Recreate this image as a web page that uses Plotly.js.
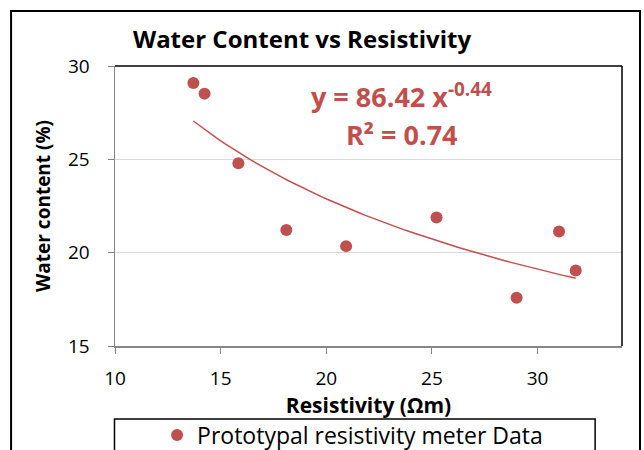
<!DOCTYPE html>
<html>
<head>
<meta charset="utf-8">
<script src="https://cdn.plot.ly/plotly-3.0.1.min.js"></script>
<style>html,body{margin:0;padding:0;background:#fff;}#chart{width:644px;height:450px;}</style>
</head>
<body>
<div id="chart"></div>
<script>
// Data
const resistivity = [13.71, 14.24, 15.84, 18.11, 20.94, 25.22, 29.01, 31.02, 31.81];
const waterContent = [29.09, 28.52, 24.79, 21.21, 20.35, 21.88, 17.59, 21.14, 19.05];
const seriesName = 'Prototypal resistivity meter Data';
const xTicks = [10, 15, 20, 25, 30];
const yTicks = [15, 20, 25, 30];
const fitLabel = 'y = 86.42 x<sup>-0.44</sup>';
const r2Label = 'R² = 0.74';

// Power trendline (least squares in log-log space, as Excel does)
const lx = resistivity.map(Math.log), ly = waterContent.map(Math.log);
const n = lx.length;
const mx = lx.reduce((a,b)=>a+b,0)/n, my = ly.reduce((a,b)=>a+b,0)/n;
let sxy = 0, sxx = 0;
for (let i=0;i<n;i++){ sxy += (lx[i]-mx)*(ly[i]-my); sxx += (lx[i]-mx)**2; }
const b = sxy/sxx, a = Math.exp(my - b*mx);
const xmin = Math.min(...resistivity), xmax = Math.max(...resistivity);
const tx = [], ty = [];
for (let i=0;i<=60;i++){ const x = xmin + (xmax-xmin)*i/60; tx.push(x); ty.push(a*Math.pow(x,b)); }

const red = '#C0504D';
const font = 'Open Sans, sans-serif';

const data = [
  {x: resistivity, y: waterContent, type:'scatter', mode:'markers', name: seriesName,
   marker:{color:red, size:12}},
  {x: tx, y: ty, type:'scatter', mode:'lines', showlegend:false, hoverinfo:'skip',
   line:{color:red, width:1.5}}
];

const layout = {
  width:644, height:450,
  margin:{l:115, r:22, t:66, b:104, autoexpand:false},
  paper_bgcolor:'#fff', plot_bgcolor:'#fff',
  font:{family:font, color:'#000'},
  title:{text:'<b>Water Content vs Resistivity</b>', font:{size:24, family:font, color:'#000'},
         x:0.469, xref:'container', xanchor:'center', y:0.911, yref:'container', yanchor:'middle'},
  xaxis:{range:[10,34], tickvals:xTicks, ticktext:xTicks.map(String), showgrid:false, zeroline:false,
         showline:true, linecolor:'#868686', linewidth:1.5, ticks:'outside', ticklen:6, tickcolor:'#868686',
         ticklabelstandoff:9, tickfont:{size:19, family:font},
         title:{text:'<b>Resistivity (Ωm)</b>', font:{size:21, family:font}, standoff:0}},
  yaxis:{range:[15,30], tickvals:yTicks, ticktext:yTicks.map(String), showgrid:true, gridcolor:'#D9D9D9', gridwidth:1.5,
         zeroline:false, showline:true, linecolor:'#868686', linewidth:1.5, ticks:'outside', ticklen:6, tickcolor:'#868686',
         ticklabelstandoff:14, tickfont:{size:19, family:font},
         title:{text:'<b>Water content (%)</b>', font:{size:19, family:font}, standoff:12}},
  showlegend:true,
  legend:{x:0.083, xanchor:'left', y:-0.318, yanchor:'middle', bgcolor:'rgba(0,0,0,0)',
          font:{size:23, family:font}, borderwidth:0},
  shapes:[
    // plot-area frame top and right
    {type:'line', xref:'paper', yref:'paper', x0:0, x1:1, y0:1, y1:1, line:{color:'#000', width:1.5}},
    {type:'line', xref:'paper', yref:'paper', x0:1, x1:1, y0:0, y1:1, line:{color:'#000', width:1.5}},
    // outer chart border
    {type:'rect', xref:'paper', yref:'paper', x0:-0.205, x1:1.0355, y0:-0.5, y1:1.196, line:{color:'#000', width:2}},
    // legend box
    {type:'rect', xref:'paper', yref:'paper', x0:-0.001, x1:0.947, y0:-0.5, y1:-0.261, line:{color:'#000', width:1.5}}
  ],
  annotations:[
    {text:'<b>'+fitLabel+'</b>', xref:'paper', yref:'paper', x:0.566, y:0.896, xanchor:'center', yanchor:'middle',
     showarrow:false, font:{size:27, family:font, color:red}},
    {text:'<b>'+r2Label+'</b>', xref:'paper', yref:'paper', x:0.566, y:0.756, xanchor:'center', yanchor:'middle',
     showarrow:false, font:{size:27, family:font, color:red}}
  ]
};

Plotly.newPlot('chart', data, layout, {displayModeBar:false, staticPlot:true});
</script>
</body>
</html>
